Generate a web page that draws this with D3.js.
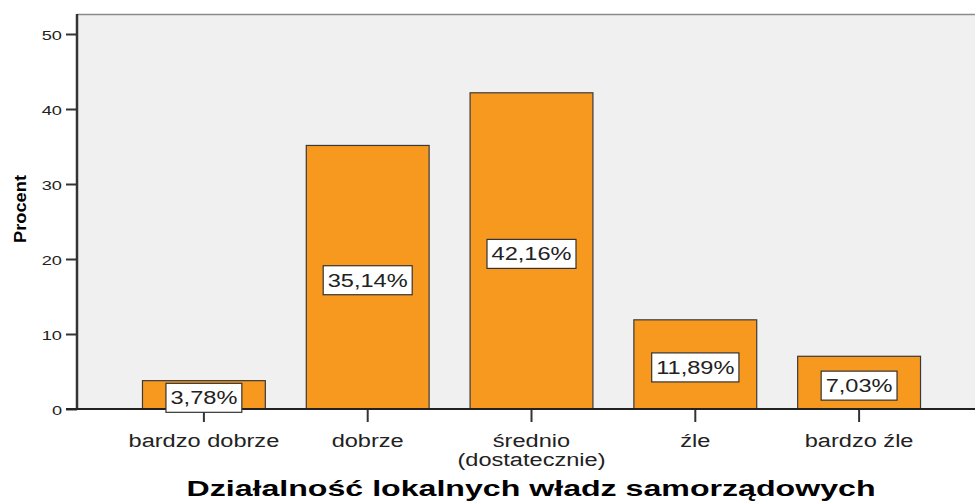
<!DOCTYPE html>
<html>
<head>
<meta charset="utf-8">
<script src="https://cdn.jsdelivr.net/npm/d3@7"></script>
<style>
  body { margin: 0; background: #fff; }
  text { font-family: "Liberation Sans", Arial, sans-serif; }
</style>
</head>
<body>
<div id="chart"></div>
<script>
// data
const categories = ["bardzo dobrze", "dobrze", "średnio\n(dostatecznie)", "źle", "bardzo źle"];
const percents = [3.78, 35.14, 42.16, 11.89, 7.03];
const labels = ["3,78%", "35,14%", "42,16%", "11,89%", "7,03%"];
const yTicks = [0, 10, 20, 30, 40, 50];

const W = 975, H = 501;
const plot = {left: 77, top: 14, right: 975, bottom: 409};

const svg = d3.select("#chart").append("svg")
    .attr("width", W)
    .attr("height", H);

// the source picture is stretched sideways, so text is widened too
function stretch(sel, k) {
    sel.each(function () {
        const len = this.getComputedTextLength();
        d3.select(this).attr("textLength", len * k).attr("lengthAdjust", "spacingAndGlyphs");
    });
}

const x = d3.scaleBand()
    .domain(categories)
    .range([122, 941])
    .paddingInner(0.25)
    .paddingOuter(0.125);

const y = d3.scaleLinear()
    .domain([0, 50])
    .range([plot.bottom, 34]);

// plot background
svg.append("rect")
    .attr("x", plot.left)
    .attr("y", plot.top)
    .attr("width", plot.right - plot.left)
    .attr("height", plot.bottom - plot.top)
    .attr("fill", "#f0f0f0");
svg.append("line")
    .attr("x1", plot.left).attr("x2", plot.right)
    .attr("y1", plot.top + 0.5).attr("y2", plot.top + 0.5)
    .attr("stroke", "#8a8a8a").attr("stroke-width", 1.5);

// bars
svg.selectAll(".bar")
    .data(percents)
    .enter().append("rect")
    .attr("class", "bar")
    .attr("x", (d, i) => x(categories[i]))
    .attr("y", d => y(d))
    .attr("width", x.bandwidth())
    .attr("height", d => y(0) - y(d))
    .attr("fill", "#f8991f")
    .attr("stroke", "#3a3a3a")
    .attr("stroke-width", 1.2);

// y axis
const yAxis = svg.append("g")
    .attr("transform", `translate(${plot.left},0)`)
    .call(d3.axisLeft(y).tickValues(yTicks).tickSize(11).tickPadding(4));
yAxis.select(".domain").remove();
yAxis.selectAll(".tick line").attr("stroke", "#333").attr("stroke-width", 2);
yAxis.selectAll(".tick text")
    .attr("fill", "#222")
    .attr("dy", "0.45em")
    .style("font-size", "13px")
    .call(stretch, 1.4);
svg.append("line")
    .attr("x1", plot.left).attr("x2", plot.left)
    .attr("y1", plot.top).attr("y2", plot.bottom)
    .attr("stroke", "#333").attr("stroke-width", 2.5);

// x axis
const xAxis = svg.append("g")
    .attr("transform", `translate(0,${plot.bottom})`)
    .call(d3.axisBottom(x).tickSize(13).tickFormat(""));
xAxis.select(".domain").remove();
xAxis.selectAll(".tick line").attr("stroke", "#333").attr("stroke-width", 2);
svg.append("line")
    .attr("x1", plot.left - 11).attr("x2", plot.right)
    .attr("y1", plot.bottom).attr("y2", plot.bottom)
    .attr("stroke", "#222").attr("stroke-width", 2);

categories.forEach(function (c) {
    c.split("\n").forEach(function (line, j) {
        svg.append("text")
            .attr("class", "xlab")
            .attr("x", x(c) + x.bandwidth() / 2)
            .attr("y", 447 + j * 19)
            .attr("text-anchor", "middle")
            .attr("fill", "#222")
            .style("font-size", "18px")
            .text(line);
    });
});
svg.selectAll(".xlab").call(stretch, 1.31);

// value labels
const lab = svg.selectAll(".vlab")
    .data(percents)
    .enter().append("g")
    .attr("class", "vlab")
    .attr("transform", (d, i) => `translate(${x(categories[i]) + x.bandwidth() / 2},${(y(d) + y(0)) / 2 + 3})`);
const boxes = lab.append("rect")
    .attr("fill", "#fff")
    .attr("stroke", "#333")
    .attr("stroke-width", 1.2);
const vtext = lab.append("text")
    .attr("text-anchor", "middle")
    .attr("dy", "0.36em")
    .attr("fill", "#222")
    .style("font-size", "18px")
    .text((d, i) => labels[i])
    .call(stretch, 1.31);
vtext.each(function (d, i) {
    const w = +d3.select(this).attr("textLength") + 9;
    d3.select(boxes.nodes()[i])
        .attr("x", -w / 2).attr("y", -14.5)
        .attr("width", w).attr("height", 29);
});

// axis titles
svg.append("text")
    .attr("transform", "translate(26,209) rotate(-90)")
    .attr("text-anchor", "middle")
    .attr("fill", "#000")
    .style("font-size", "16px")
    .style("font-weight", "bold")
    .text("Procent")
    .attr("textLength", 68)
    .attr("lengthAdjust", "spacingAndGlyphs");

svg.append("text")
    .attr("x", 531)
    .attr("y", 496)
    .attr("text-anchor", "middle")
    .attr("fill", "#000")
    .style("font-size", "22px")
    .style("font-weight", "bold")
    .text("Działalność lokalnych władz samorządowych")
    .call(stretch, 1.46);
</script>
</body>
</html>
